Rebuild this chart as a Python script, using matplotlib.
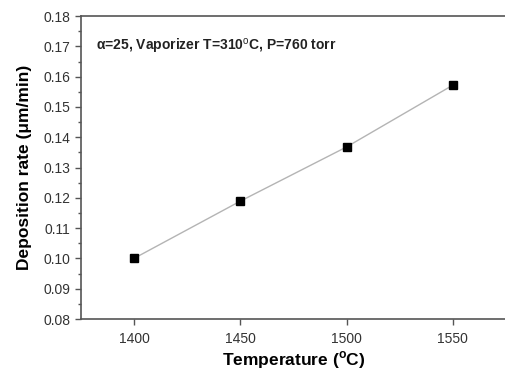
import matplotlib
matplotlib.use("Agg")
import matplotlib.pyplot as plt
from matplotlib.ticker import MultipleLocator

temperature = [1400, 1450, 1500, 1550]
deposition_rate = [0.1000, 0.1189, 0.1368, 0.1572]

plt.rcParams["font.family"] = ["Liberation Sans", "DejaVu Sans"]
plt.rcParams["mathtext.fontset"] = "custom"
plt.rcParams["mathtext.rm"] = "Liberation Sans"
plt.rcParams["mathtext.bf"] = "Liberation Sans:bold"

figure = plt.figure(figsize=(5.05, 3.74), dpi=100)
axis = figure.add_axes([0.160, 0.147, 0.842, 0.810])

axis.plot(
    temperature,
    deposition_rate,
    color="#b4b4b4",
    linewidth=1.0,
    marker="s",
    markersize=6,
    markerfacecolor="black",
    markeredgecolor="black",
)

axis.set_xlim(1375, 1575)
axis.set_ylim(0.08, 0.18)
axis.set_xticks(temperature)
axis.yaxis.set_major_locator(MultipleLocator(0.01))
axis.yaxis.set_minor_locator(MultipleLocator(0.005))
axis.yaxis.set_major_formatter(matplotlib.ticker.FormatStrFormatter("%.2f"))

for side in ["left", "bottom", "top"]:
    axis.spines[side].set_color("#555555")
    axis.spines[side].set_linewidth(1.2)
axis.spines["right"].set_visible(False)

axis.tick_params(axis="both", which="major", direction="out", length=4,
                 width=1, color="#555555", labelsize=10, labelcolor="#333333")
axis.tick_params(axis="y", which="minor", direction="out", length=2.5,
                 width=1, color="#555555")
axis.tick_params(axis="x", which="major", pad=5)

axis.set_xlabel("Temperature ($^{\\mathbf{o}}$C)", fontsize=12.5,
                fontweight="bold", labelpad=3)
axis.set_ylabel("Deposition rate (μm/min)", fontsize=12.5,
                fontweight="bold", labelpad=8)

axis.text(
    0.035, 0.93,
    "α=25, Vaporizer T=310$^{\\mathrm{o}}$C, P=760 torr",
    transform=axis.transAxes,
    fontsize=10,
    fontweight="bold",
    va="top",
    color="#222222",
)

figure.savefig("out.png", dpi=100)
plt.close(figure)
